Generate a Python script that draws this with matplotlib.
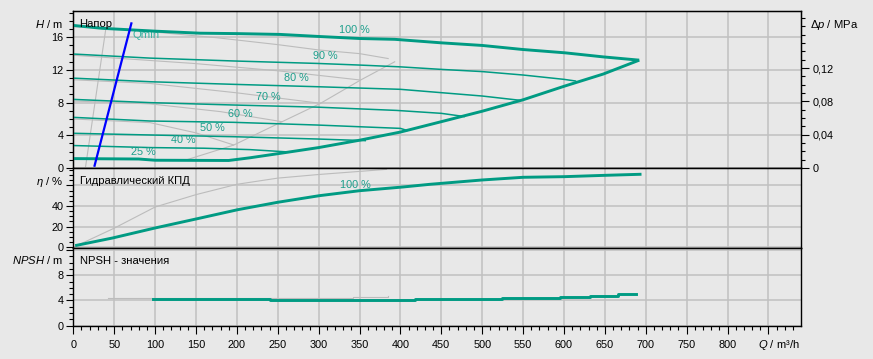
import numpy as np
import matplotlib
matplotlib.use("Agg")
import matplotlib.pyplot as plt
from matplotlib.ticker import MultipleLocator

plt.rcParams['font.family'] = ['Liberation Sans', 'DejaVu Sans']
plt.rcParams['mathtext.fontset'] = 'custom'
plt.rcParams['mathtext.it'] = 'Liberation Sans:italic'
plt.rcParams['mathtext.rm'] = 'Liberation Sans'

# ---- data (Q in m3/h, H in m) ----
q_100 = [0, 35, 100, 155, 200, 253, 300, 350, 393, 450, 500, 550, 601, 648, 692]
h_100 = [17.45, 17.1, 16.75, 16.5, 16.45, 16.35, 16.1, 15.85, 15.75, 15.32, 15.0, 14.5, 14.1, 13.6, 13.2]

# lower envelope: 25 % curve joined to the right-hand limit
q_min = [0, 80, 100, 190, 216, 250, 300, 350, 400, 450, 500, 550, 600, 648, 692]
h_min = [1.15, 1.1, 0.95, 0.92, 1.25, 1.75, 2.5, 3.4, 4.4, 5.67, 6.95, 8.35, 10.0, 11.5, 13.2]

q_90 = [0, 94, 196, 298, 350, 400, 450, 500, 550, 600, 614]
h_90 = [13.95, 13.45, 13.1, 12.8, 12.6, 12.38, 12.07, 11.8, 11.38, 10.85, 10.65]
q_80 = [0, 94, 196, 298, 400, 450, 500, 545]
h_80 = [11.0, 10.56, 10.24, 9.95, 9.63, 9.22, 8.81, 8.3]
q_70 = [0, 94, 196, 298, 395, 450, 478]
h_70 = [8.4, 8.0, 7.71, 7.45, 7.05, 6.69, 6.3]
q_60 = [0, 94, 196, 298, 350, 400, 408]
h_60 = [6.2, 5.75, 5.59, 5.26, 5.05, 4.85, 4.6]
q_50 = [0, 94, 196, 298, 357]
h_50 = [4.25, 4.04, 3.83, 3.55, 3.35]
q_40 = [0, 94, 160, 216, 265]
h_40 = [2.75, 2.5, 2.42, 2.25, 1.95]

speed_labels = ['100 %', '90 %', '80 %', '70 %', '60 %', '50 %', '40 %', '25 %']
label_q = [344, 308, 273, 238, 204, 170, 134, 86]
label_h = [16.9, 13.7, 11.05, 8.73, 6.6, 4.86, 3.43, 1.92]

# blue Qmin line
qmin_q = [26, 71]
qmin_h = [0.28, 17.7]

# light grey helper curves
grey_steep_q = [15, 40]
grey_steep_h = [0.15, 17.2]
grey_sys_q = [140, 196, 255, 302, 351, 393]
grey_sys_h = [1.05, 2.8, 5.65, 7.9, 10.75, 13.0]
grey_100_q = [0, 60, 120, 175, 250, 300, 350, 385]
grey_100_h = [17.3, 17.0, 16.45, 15.95, 15.1, 14.45, 14.0, 13.4]
grey_90_q = [0, 147, 250, 350]
grey_90_h = [13.8, 12.8, 11.9, 10.78]
grey_80_q = [0, 94, 200, 302]
grey_80_h = [10.8, 10.35, 9.2, 7.92]
grey_70_q = [0, 94, 180, 255]
grey_70_h = [8.2, 7.85, 6.9, 5.67]
grey_60_q = [0, 94, 150, 196]
grey_60_h = [6.0, 5.55, 4.3, 2.82]

# efficiency, %
eta_q = [4, 48, 100, 150, 201, 250, 301, 350, 403, 436, 500, 550, 600, 650, 693]
eta_v = [1.9, 9.0, 18.7, 27.4, 36.4, 43.6, 50.0, 54.8, 58.4, 61.0, 65.2, 67.8, 68.4, 69.7, 70.7]
eta_grey_q = [0, 50, 100, 150, 200, 250, 300, 350, 383]
eta_grey_v = [0, 18.5, 39, 51, 61, 67, 70.5, 73.5, 75.5]

# NPSH, m (stepped)
npsh_q = [98, 241, 418, 524, 595, 632, 666, 688]
npsh_v = [4.27, 4.06, 4.25, 4.43, 4.58, 4.74, 4.96, 4.96]
npsh_grey_q = [43, 98, 313, 342, 362, 385]
npsh_grey_v = [4.35, 4.35, 4.4, 4.5, 4.6, 4.65]

x_ticks = list(range(0, 851, 50))
x_labels = [str(v) for v in x_ticks[:-1]] + ['']

# ---- styling ----
BG = '#e8e8e8'
GRID = '#c0c0c0'
TEAL = '#009b83'
TEAL_TXT = '#1d9f8c'
GREY = '#bcbcbc'
FS = 7.8

W, HPX = 873, 359
fig = plt.figure(figsize=(W / 100, HPX / 100), dpi=100, facecolor=BG)


def fx(x):
    return x / W


def fy(y):
    return 1 - y / HPX


left, right = 73.3, 800.5
xmax = (right - left) / 0.8178
panels = [(11.3, 168.0), (168.0, 247.7), (247.7, 325.7)]
axes = []
for top, bot in panels:
    ax = fig.add_axes([fx(left), fy(bot), (right - left) / W, (bot - top) / HPX])
    ax.set_facecolor(BG)
    ax.set_xlim(0, xmax)
    ax.set_xticks(x_ticks)
    ax.xaxis.set_minor_locator(MultipleLocator(10))
    ax.grid(True, which='major', color=GRID, lw=1.1)
    ax.set_axisbelow(True)
    for s in ax.spines.values():
        s.set_color('black')
        s.set_linewidth(1.0)
    ax.tick_params(axis='y', which='major', direction='out', length=5.4, width=0.8,
                   pad=1.8, labelsize=FS, colors='black')
    ax.tick_params(axis='y', which='minor', direction='out', length=3.0, width=0.8)
    axes.append(ax)
ax_h, ax_e, ax_n = axes

for ax in (ax_h, ax_e):
    ax.tick_params(axis='x', which='both', length=0, labelbottom=False)
ax_n.tick_params(axis='x', which='major', direction='out', length=5.4, width=0.8,
                 pad=5, labelsize=FS)
ax_n.tick_params(axis='x', which='minor', direction='out', length=3.0, width=0.8)
ax_n.set_xticklabels(x_labels)

# ---- top panel: head ----
ax_h.set_ylim(0, 19.18)
ax_h.set_yticks([0, 4, 8, 12, 16])
ax_h.yaxis.set_minor_locator(MultipleLocator(1))

for q, h in [(grey_steep_q, grey_steep_h), (grey_sys_q, grey_sys_h),
             (grey_100_q, grey_100_h), (grey_90_q, grey_90_h), (grey_80_q, grey_80_h),
             (grey_70_q, grey_70_h), (grey_60_q, grey_60_h)]:
    ax_h.plot(q, h, color=GREY, lw=0.8, zorder=2)

for q, h in [(q_90, h_90), (q_80, h_80), (q_70, h_70), (q_60, h_60),
             (q_50, h_50), (q_40, h_40)]:
    ax_h.plot(q, h, color=TEAL, lw=1.1, zorder=3)

ax_h.text(89, 16.28, 'Qmin', color='#3cb3a2', fontsize=FS + 0.4, ha='center',
          va='center', zorder=2.5)
ax_h.plot(q_100, h_100, color=TEAL, lw=2.1, zorder=4, solid_capstyle='butt')
ax_h.plot(q_min, h_min, color=TEAL, lw=2.1, zorder=4, solid_capstyle='butt')
ax_h.plot(qmin_q, qmin_h, color='#0000ff', lw=1.6, zorder=5)

for txt, q, h in zip(speed_labels, label_q, label_h):
    ax_h.text(q, h, txt, color=TEAL_TXT, fontsize=FS, ha='center', va='center', zorder=6)

ax_p = ax_h.twinx()
ax_p.set_ylim(0, 19.18 * 0.00981)
ax_p.set_yticks([0, 0.04, 0.08, 0.12])
ax_p.set_yticklabels(['0', '0,04', '0,08', '0,12'])
ax_p.yaxis.set_minor_locator(MultipleLocator(0.01))
ax_p.tick_params(axis='y', which='major', direction='out', length=5.4, width=0.8,
                 pad=3, labelsize=FS)
ax_p.tick_params(axis='y', which='minor', direction='out', length=3.0, width=0.8)
for s in ax_p.spines.values():
    s.set_color('black')

# ---- middle panel: efficiency ----
ax_e.set_ylim(-0.4, 76.8)
ax_e.set_yticks([0, 20, 40, 60])
ax_e.set_yticklabels(['0', '20', '40', ''])
ax_e.yaxis.set_minor_locator(MultipleLocator(5))
ax_e.plot(eta_grey_q, eta_grey_v, color=GREY, lw=0.8, zorder=2)
ax_e.plot(eta_q, eta_v, color=TEAL, lw=2.1, zorder=4)
ax_e.text(345, 60, '100 %', color=TEAL_TXT, fontsize=FS, ha='center', va='center')

# ---- bottom panel: NPSH ----
ax_n.set_ylim(0, 12.38)
ax_n.set_yticks([0, 4, 8, 12])
ax_n.set_yticklabels(['0', '4', '8', ''])
ax_n.yaxis.set_minor_locator(MultipleLocator(1))
ax_n.plot(npsh_grey_q, npsh_grey_v, color=GREY, lw=0.8, zorder=2, drawstyle='steps-post')
ax_n.plot(npsh_q, npsh_v, color=TEAL, lw=2.1, zorder=4, drawstyle='steps-post')

# ---- axis captions ----
fig.text(fx(62.5), fy(24.3), r'$\mathit{H}$ / m', fontsize=FS + 0.3, ha='right', va='center')
fig.text(fx(79), fy(24), 'Напор', fontsize=FS + 0.3, ha='left', va='center')
fig.text(fx(810), fy(24.7), r'$\mathit{Δp}$ / MPa', fontsize=FS + 0.3, ha='left', va='center')
fig.text(fx(63), fy(182), r'$\mathit{η}$ / %', fontsize=FS + 0.3, ha='right', va='center')
fig.text(fx(80), fy(181), 'Гидравлический КПД', fontsize=FS + 0.3, ha='left', va='center')
fig.text(fx(63), fy(260), r'$\mathit{NPSH}$ / m', fontsize=FS + 0.3, ha='right', va='center')
fig.text(fx(80), fy(260.5), 'NPSH - значения', fontsize=FS + 0.3, ha='left', va='center')
fig.text(fx(800), fy(345), r'$\mathit{Q}$ / m³/h', fontsize=FS + 0.3, ha='right', va='center')

fig.savefig('out.png', dpi=100, facecolor=BG)
